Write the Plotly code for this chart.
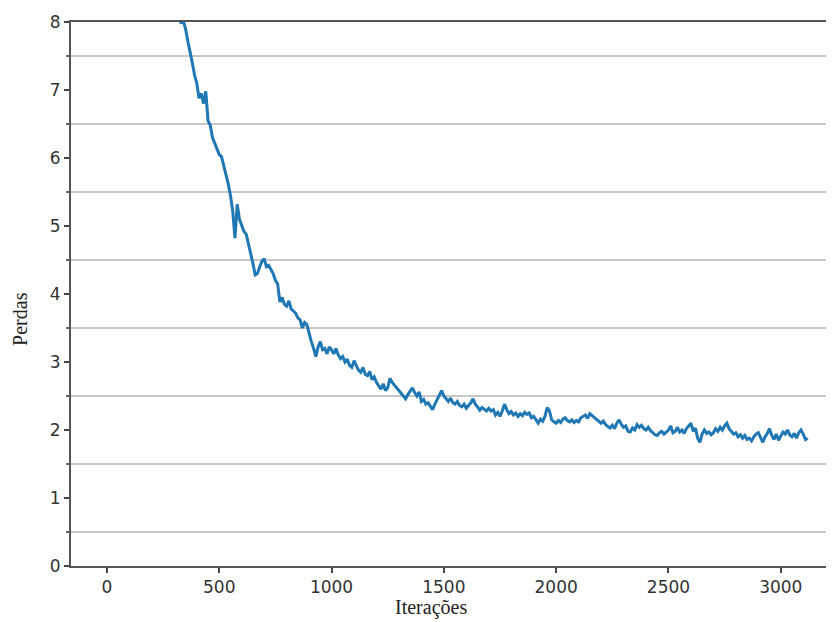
import plotly.graph_objects as go

iterations = list(range(320, 3121, 10))
losses = [
    8.08, 7.98, 8.02, 7.90, 7.72, 7.58, 7.40, 7.22,
    7.10, 6.88, 6.95, 6.80, 6.98, 6.55, 6.48, 6.30, 6.22, 6.15,
    6.05, 6.02, 5.88, 5.78, 5.62, 5.45, 5.22, 4.82, 5.32, 5.10,
    5.02, 4.92, 4.88, 4.75, 4.62, 4.45, 4.28, 4.30, 4.40, 4.48,
    4.52, 4.40, 4.42, 4.35, 4.30, 4.20, 4.15, 3.88, 3.95, 3.85,
    3.82, 3.90, 3.78, 3.75, 3.72, 3.65, 3.62, 3.50, 3.58, 3.55,
    3.40, 3.30, 3.20, 3.08, 3.22, 3.30, 3.18, 3.20, 3.12, 3.22,
    3.18, 3.12, 3.20, 3.10, 3.05, 3.08, 3.00, 3.04, 2.95, 2.92,
    3.02, 2.96, 2.88, 2.85, 2.92, 2.82, 2.80, 2.86, 2.74, 2.78,
    2.70, 2.65, 2.60, 2.68, 2.58, 2.62, 2.76, 2.70, 2.66, 2.62,
    2.58, 2.55, 2.50, 2.46, 2.52, 2.58, 2.62, 2.55, 2.50, 2.56,
    2.42, 2.45, 2.38, 2.40, 2.34, 2.30, 2.38, 2.45, 2.52, 2.58,
    2.50, 2.46, 2.42, 2.47, 2.40, 2.38, 2.42, 2.36, 2.34, 2.38,
    2.32, 2.36, 2.40, 2.46, 2.38, 2.34, 2.29, 2.33, 2.30, 2.28,
    2.32, 2.28, 2.30, 2.22, 2.26, 2.20, 2.28, 2.38, 2.30, 2.24,
    2.27, 2.22, 2.25, 2.20, 2.24, 2.21, 2.26, 2.23, 2.25, 2.18,
    2.20, 2.14, 2.10, 2.16, 2.13, 2.20, 2.33, 2.28, 2.15, 2.12,
    2.10, 2.14, 2.11, 2.16, 2.18, 2.14, 2.12, 2.15, 2.11, 2.14,
    2.12, 2.18, 2.20, 2.22, 2.17, 2.24, 2.21, 2.18, 2.15, 2.12,
    2.10, 2.13, 2.08, 2.05, 2.03, 2.07, 2.02, 2.10, 2.15, 2.08,
    2.04, 2.06, 1.98, 1.97, 2.03, 2.00, 2.08, 2.04, 2.07, 2.02,
    2.00, 2.04, 1.99, 1.96, 1.93, 1.92, 1.96, 1.98, 1.94, 1.97,
    2.00, 2.06, 1.96, 1.98, 2.04, 1.97, 2.00, 1.95, 2.02, 2.06,
    2.10, 1.98, 2.03, 1.88, 1.82, 1.94, 2.00, 1.95, 1.97, 1.93,
    1.96, 2.02, 1.98, 2.04, 2.00, 2.06, 2.10, 2.02, 1.98, 1.94,
    1.96, 1.90, 1.93, 1.88, 1.92, 1.86, 1.88, 1.84, 1.90, 1.94,
    1.96, 1.88, 1.82, 1.90, 1.95, 2.02, 1.92, 1.86, 1.94, 1.85,
    1.92, 1.97, 1.94, 2.00, 1.93, 1.90, 1.95, 1.88, 1.96, 2.00,
    1.94, 1.86, 1.88,
]

x_ticks = [0, 500, 1000, 1500, 2000, 2500, 3000]
y_ticks = [0, 1, 2, 3, 4, 5, 6, 7, 8]
y_grid = [0.5, 1.5, 2.5, 3.5, 4.5, 5.5, 6.5, 7.5]

x_title = "Iterações"
y_title = "Perdas"

fig = go.Figure()
fig.add_trace(go.Scatter(
    x=iterations, y=losses, mode="lines",
    line=dict(color="#1f77b4", width=3),
    showlegend=False, cliponaxis=True,
))

tick_font = dict(family="DejaVu Sans", size=17, color="#333333")
title_font = dict(family="Liberation Serif", size=20, color="#222222")

# page body adds an 8px offset, so the figure is 8px smaller on each side
fig.update_layout(
    width=826, height=614,
    margin=dict(l=63, r=0, t=14, b=56, autoexpand=False),
    paper_bgcolor="white", plot_bgcolor="white",
    xaxis=dict(
        range=[-160, 3237], automargin=False,
        tickvals=x_ticks, ticktext=[str(v) for v in x_ticks],
        ticks="outside", ticklen=5, tickwidth=1.5, tickcolor="#444444",
        showline=True, linecolor="#555555", linewidth=2, mirror=True,
        showgrid=False, zeroline=False,
        tickfont=tick_font,
    ),
    yaxis=dict(
        range=[0, 8], automargin=False,
        tickvals=y_ticks, ticktext=[str(v) for v in y_ticks],
        ticks="outside", ticklen=5, tickwidth=1.5, tickcolor="#444444",
        showline=True, linecolor="#555555", linewidth=2,
        showgrid=False, zeroline=False,
        tickfont=tick_font,
        minor=dict(tickvals=y_grid, showgrid=True, gridcolor="#c8c8c8",
                   gridwidth=1.5, ticks="outside", ticklen=3,
                   tickcolor="#666666"),
    ),
    annotations=[
        dict(text=x_title, xref="paper", yref="paper", x=0.472, y=-0.077,
             xanchor="center", yanchor="middle", showarrow=False,
             font=title_font),
        dict(text=y_title, xref="paper", yref="paper", x=-0.067, y=0.454,
             xanchor="center", yanchor="middle", showarrow=False,
             textangle=-90, font=title_font),
    ],
)

fig.write_html("out.html")
